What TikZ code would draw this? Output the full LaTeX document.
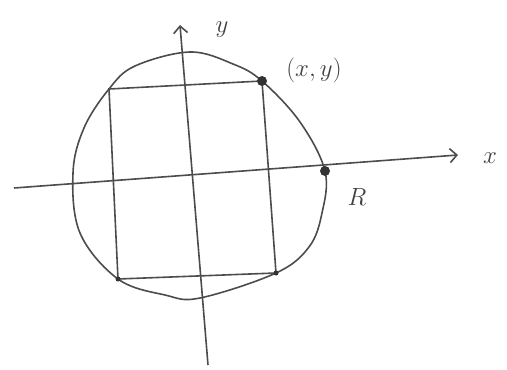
\documentclass[tikz,border=0pt]{standalone}
\usepackage{amsmath}
\usepackage{tikz}
\usetikzlibrary{arrows.meta}

\begin{document}
\begin{tikzpicture}[
        x = 1pt, y = -1pt,
        pen/.style = {draw = black!70, line width = 1.6pt},
        bigdot/.style = {circle, fill = black!80, inner sep = 0pt, minimum size = 10pt},
        smalldot/.style = {circle, fill = black!80, inner sep = 0pt, minimum size = 5pt},
        lbl/.style = {font = \fontsize{28}{32}\selectfont, text = black!75}
    ]
        \useasboundingbox (0,0) rectangle (507,370);
        \coordinate (xs) at (14,188);
        \coordinate (xe) at (458,155);
        \coordinate (ys) at (208,365);
        \coordinate (ye) at (180,25);
        \coordinate (tl) at (109,89);
        \coordinate (tr) at (262,81);
        \coordinate (br) at (276,273);
        \coordinate (bl) at (118,279);
        \coordinate (rr) at (325,171);
        % the round boundary
        \draw[pen] plot[smooth cycle, tension = 0.6] coordinates {
            (190,52) (233,64) (tr) (300,122) (rr) (322,213) (309,247) (br)
            (200,298) (165,295) (bl) (80,233) (73,173) (84,128) (tl) (135,66)};
        \draw[pen] (tl) -- (tr) -- (br) -- (bl) -- cycle;
        \draw[pen, -{Straight Barb[length = 7pt, width = 14pt]}] (xs) -- (xe);
        \draw[pen, -{Straight Barb[length = 7pt, width = 14pt]}] (ys) -- (ye);
        \node[bigdot] (pxy) at (tr) {};
        \node[bigdot] (pR) at (rr) {};
        \node[smalldot] (pbl) at (bl) {};
        \node[smalldot] (pbr) at (br) {};
        \node[lbl] (xlbl) at (490,158) {$x$};
        \node[lbl] (ylbl) at (222,30) {$y$};
        \node[lbl] (xylbl) at (314,70) {$(x,y)$};
        \node[lbl] (Rlbl) at (357,197) {$R$};
    \end{tikzpicture}
\end{document}
